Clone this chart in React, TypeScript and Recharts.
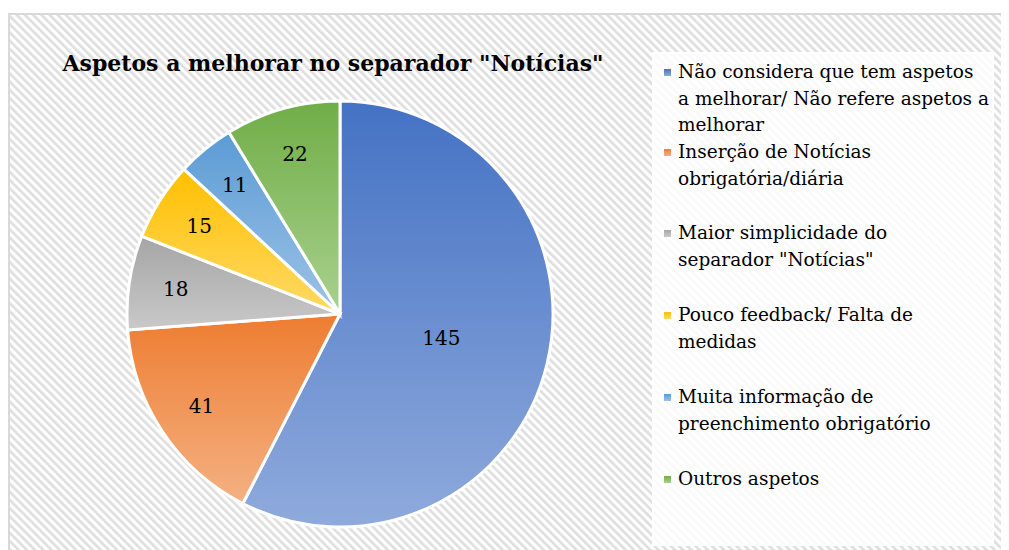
import React from "react";
import { PieChart, Pie, Cell } from "recharts";

const categories = [
  "Não considera que tem aspetos\na melhorar/ Não refere aspetos a\nmelhorar",
  "Inserção de Notícias\nobrigatória/diária",
  "Maior simplicidade do\nseparador \"Notícias\"",
  "Pouco feedback/ Falta de\nmedidas",
  "Muita informação de\npreenchimento obrigatório",
  "Outros aspetos",
];
const values = [145, 41, 18, 15, 11, 22];
const topColors = ["#4472C4", "#ED7D31", "#A5A5A5", "#FFC000", "#5B9BD5", "#70AD47"];
const bottomColors = ["#8FAADC", "#F4B183", "#C9C9C9", "#FFD966", "#9DC3E6", "#A9D18E"];
const title = "Aspetos a melhorar no separador \"Notícias\"";

const data = categories.map((name, i) => ({ name: name.replace(/\n/g, " "), value: values[i] }));

const FONT = "'DejaVu Serif', serif";
const RADIAN = Math.PI / 180;

const legendTops = [51, 131, 212, 294, 376, 458];

const renderLabel = (props: any) => {
  const { cx, cy, midAngle, outerRadius, value, index } = props;
  const f = index === 0 ? 0.49 : 0.78;
  const r = outerRadius * f;
  const x = cx + r * Math.cos(-midAngle * RADIAN);
  const y = cy + r * Math.sin(-midAngle * RADIAN);
  return (
    <text
      x={x}
      y={y}
      textAnchor="middle"
      dominantBaseline="central"
      fill="#000"
      style={{ fontFamily: FONT, fontSize: 20 }}
    >
      {value}
    </text>
  );
};

export default function App() {
  return (
    <div style={{ position: "relative", width: 1001, height: 542, overflow: "hidden", fontFamily: FONT }}>
      <svg width={1001} height={542} style={{ position: "absolute", left: 0, top: 0 }}>
        <defs>
          <pattern id="hatch" width="5.8" height="5.8" patternUnits="userSpaceOnUse" patternTransform="rotate(-45)">
            <rect width="5.8" height="5.8" fill="#ffffff" />
            <rect width="2.6" height="5.8" fill="#dedede" />
          </pattern>
        </defs>
        <rect x={1} y={6} width={1020} height={560} fill="url(#hatch)" stroke="#d9d9d9" strokeWidth={2} />
        <rect x={645} y={45} width={340} height={492} fill="rgba(255,255,255,0.82)" stroke="#ffffff" strokeWidth={2} />
      </svg>
      <div
        style={{
          position: "absolute",
          left: 0,
          width: 650,
          top: 39,
          textAlign: "center",
          fontWeight: "bold",
          fontSize: 22,
          lineHeight: "32px",
          color: "#000",
        }}
      >
        {title}
      </div>
      <div style={{ position: "absolute", left: 0, top: 0 }}>
        <PieChart width={1001} height={542} margin={{ top: 0, right: 0, bottom: 0, left: 0 }}>
          <defs>
            {topColors.map((c, i) => (
              <linearGradient key={i} id={`g${i}`} x1="0" y1="0" x2="0" y2="1">
                <stop offset="0%" stopColor={c} />
                <stop offset="100%" stopColor={bottomColors[i]} />
              </linearGradient>
            ))}
          </defs>
          <Pie
            data={data}
            dataKey="value"
            nameKey="name"
            cx={332}
            cy={306}
            outerRadius={213}
            startAngle={90}
            endAngle={-270}
            stroke="#ffffff"
            strokeWidth={3}
            label={renderLabel}
            labelLine={false}
            isAnimationActive={false}
          >
            {data.map((d, i) => (
              <Cell key={d.name} fill={`url(#g${i})`} />
            ))}
          </Pie>
        </PieChart>
      </div>
      <div style={{ position: "absolute", left: 650, top: 0, width: 340 }}>
        {categories.map((name, i) => (
          <div
            key={name}
            style={{
              position: "absolute",
              top: legendTops[i],
              left: 0,
              width: 340,
              fontSize: 18.5,
              lineHeight: "26.5px",
              color: "#000",
              paddingLeft: 20,
              boxSizing: "border-box",
              whiteSpace: "pre-line",
            }}
          >
            <span
              style={{
                position: "absolute",
                left: 6,
                top: 10,
                width: 7,
                height: 7,
                background: `linear-gradient(${topColors[i]}, ${bottomColors[i]})`,
              }}
            />
            {name}
          </div>
        ))}
      </div>
    </div>
  );
}
